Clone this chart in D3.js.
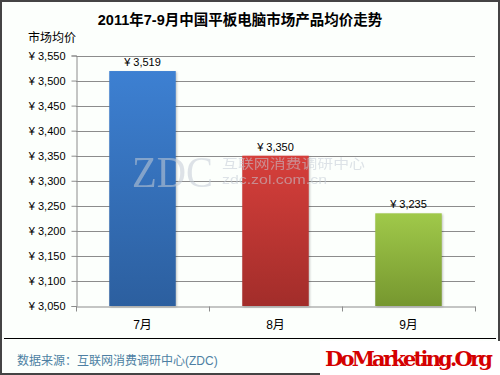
<!DOCTYPE html>
<html>
<head>
<meta charset="utf-8">
<script src="https://cdn.jsdelivr.net/npm/d3@7/dist/d3.min.js"></script>
<style>
	body { margin: 0; background: #fff; }
	svg text { font-family: "Liberation Sans", Arial, "Noto Sans CJK SC", sans-serif; }
</style>
</head>
<body>
<div id="chart"></div>
<script>
// data
var months = ['7月', '8月', '9月'];
var prices = [3519, 3350, 3235];
var yTicks = [3050, 3100, 3150, 3200, 3250, 3300, 3350, 3400, 3450, 3500, 3550];

var chartTitle = '2011年7-9月中国平板电脑市场产品均价走势';
var yTitle = '市场均价';
var source = '数据来源：互联网消费调研中心(ZDC)';

var width = 500;
var height = 375;

var barColors = [
	['#3d80d2', '#2c5f9f'],
	['#d63f3b', '#a22d2a'],
	['#a0c94a', '#76972f']
];

var fmt = function(v) { return '¥ ' + d3.format(',')(v); };

var svg = d3.select('#chart')
	.append('svg')
	.attr('width', width)
	.attr('height', height);

// gradients for the bars
var defs = svg.append('defs');
barColors.forEach(function(c, i) {
	var g = defs.append('linearGradient')
		.attr('id', 'grad' + i)
		.attr('x1', 0).attr('y1', 0)
		.attr('x2', 0).attr('y2', 1);
	g.append('stop').attr('offset', '0%').attr('stop-color', c[0]);
	g.append('stop').attr('offset', '100%').attr('stop-color', c[1]);
});

// background and frame
svg.append('rect')
	.attr('x', 1).attr('y', 1)
	.attr('width', width - 2).attr('height', height - 2)
	.attr('fill', '#fcfffc')
	.attr('stroke', '#444')
	.attr('stroke-width', 2);

svg.append('line')
	.attr('x1', 4).attr('x2', 496)
	.attr('y1', 338.5).attr('y2', 338.5)
	.attr('stroke', '#000')
	.attr('stroke-width', 1);

var x = d3.scaleBand()
	.domain(months)
	.range([76, 475])
	.paddingInner(0.5)
	.paddingOuter(0.25);

var y = d3.scaleLinear()
	.domain([3050, 3550])
	.range([306, 55.5]);

// grid lines
svg.append('g')
	.selectAll('line')
	.data(yTicks.slice(1))
	.enter()
	.append('line')
	.attr('x1', 76).attr('x2', 475)
	.attr('y1', function(d) { return Math.round(y(d)) + 0.5; })
	.attr('y2', function(d) { return Math.round(y(d)) + 0.5; })
	.attr('stroke', '#8c8c8c');

// bars
svg.append('g')
	.selectAll('rect')
	.data(prices)
	.enter()
	.append('rect')
	.attr('x', function(d, i) { return x(months[i]); })
	.attr('y', function(d) { return y(d); })
	.attr('width', x.bandwidth())
	.attr('height', function(d) { return y(3050) - y(d); })
	.attr('fill', function(d, i) { return 'url(#grad' + i + ')'; })
	.style('filter', 'drop-shadow(1px 1px 1px rgba(0,0,0,0.25))');

// watermark, drawn over the bars
var wm = svg.append('g').attr('opacity', 0.55).attr('fill', '#c4ccd6');
wm.append('text')
	.attr('x', 132).attr('y', 187)
	.style('font-family', '"Liberation Serif", "DejaVu Serif", serif')
	.style('font-size', '45px')
	.attr('textLength', 81)
	.attr('lengthAdjust', 'spacingAndGlyphs')
	.text('ZDC');
wm.append('text')
	.attr('x', 222).attr('y', 168)
	.style('font-size', '13px')
	.style('font-family', '"Noto Sans CJK SC", sans-serif')
	.attr('textLength', 143)
	.attr('lengthAdjust', 'spacingAndGlyphs')
	.text('互联网消费调研中心');
wm.append('text')
	.attr('x', 222).attr('y', 184)
	.style('font-size', '12px')
	.attr('textLength', 105)
	.attr('lengthAdjust', 'spacingAndGlyphs')
	.text('zdc.zol.com.cn');

// value labels
svg.append('g')
	.selectAll('text')
	.data(prices)
	.enter()
	.append('text')
	.attr('x', function(d, i) { return x(months[i]) + x.bandwidth() / 2; })
	.attr('y', function(d) { return y(d) - 5; })
	.attr('text-anchor', 'middle')
	.style('font-size', '11px')
	.text(fmt);

// y axis
var yAxis = svg.append('g')
	.attr('transform', 'translate(76.5,0)')
	.call(d3.axisLeft(y).tickValues(yTicks).tickSize(5).tickPadding(6).tickFormat(fmt));
yAxis.select('.domain').attr('stroke', '#8c8c8c');
yAxis.selectAll('.tick line').attr('stroke', '#8c8c8c');
yAxis.selectAll('text').style('font-size', '11px').attr('fill', '#000');

// x axis
var xAxis = svg.append('g')
	.attr('transform', 'translate(0,306.5)')
	.call(d3.axisBottom(x).tickSize(0).tickPadding(14));
xAxis.select('.domain').attr('stroke', '#8c8c8c');
xAxis.selectAll('text').style('font-size', '12px').attr('fill', '#000');

xAxis.selectAll('.sep')
	.data([0, 1, 2, 3])
	.enter()
	.append('line')
	.attr('class', 'sep')
	.attr('x1', function(i) { return Math.round(76 + i * x.step()) + 0.5; })
	.attr('x2', function(i) { return Math.round(76 + i * x.step()) + 0.5; })
	.attr('y1', 0).attr('y2', 5)
	.attr('stroke', '#8c8c8c');

// titles
svg.append('text')
	.attr('x', 240).attr('y', 25)
	.attr('text-anchor', 'middle')
	.style('font-size', '14.5px')
	.style('font-weight', 'bold')
	.text(chartTitle);

svg.append('text')
	.attr('x', 28).attr('y', 42)
	.style('font-size', '12px')
	.text(yTitle);

svg.append('text')
	.attr('x', 17).attr('y', 365)
	.style('font-size', '12px')
	.attr('fill', '#4d7fa3')
	.text(source);

// site stamp
svg.append('rect')
	.attr('x', 320).attr('y', 341)
	.attr('width', 180).attr('height', 34)
	.attr('fill', '#fff');
svg.append('text')
	.attr('x', 325).attr('y', 366)
	.style('font-family', '"DejaVu Serif", "Liberation Serif", serif')
	.style('font-weight', 'bold')
	.style('font-size', '21px')
	.attr('fill', '#d40000')
	.attr('textLength', 168)
	.text('DoMarketing.Org');
</script>
</body>
</html>
